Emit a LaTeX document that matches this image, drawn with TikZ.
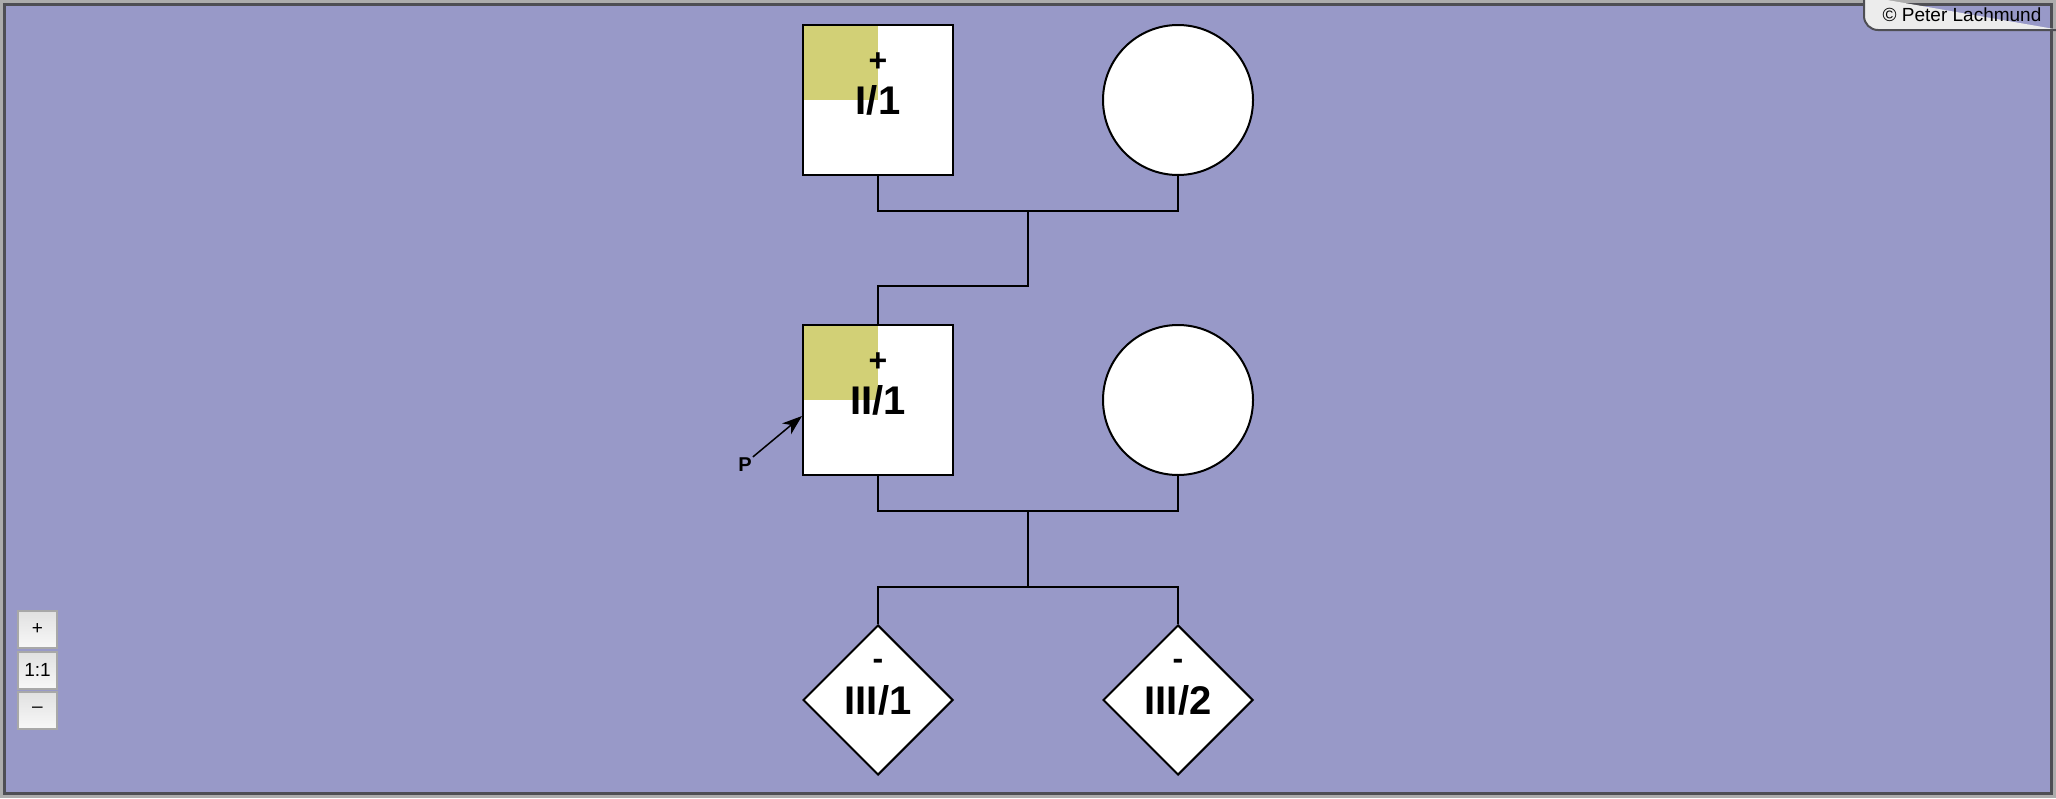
\documentclass[tikz,border=0pt]{standalone}
\usepackage{fontspec}
\setmainfont{Liberation Sans}
\usepackage{tikz}
\usetikzlibrary{shapes.geometric,arrows.meta}
\definecolor{bgblue}{RGB}{152,153,200}
\definecolor{khaki}{RGB}{210,208,118}
\definecolor{framelight}{RGB}{172,172,172}
\definecolor{framedark}{RGB}{78,78,84}
\definecolor{tabgray}{RGB}{236,236,236}
\definecolor{btnedge}{RGB}{168,168,168}
\tikzstyle{person} = [draw=black, fill=white, line width=2pt, inner sep=0pt]
\tikzstyle{male} = [person, rectangle, minimum size=150pt]
\tikzstyle{female} = [person, circle, minimum size=150pt]
\tikzstyle{unknown} = [person, diamond, minimum width=150pt, minimum height=150pt, aspect=1]
\tikzstyle{affected} = [path picture={\fill[khaki] (path picture bounding box.north west) rectangle (path picture bounding box.center);}]
\tikzstyle{idtext} = [font=\fontsize{40}{44}\selectfont\bfseries, inner sep=0pt]
\tikzstyle{signtext} = [font=\fontsize{32}{34}\selectfont\bfseries, inner sep=0pt]
\tikzstyle{line} = [draw=black, line width=2pt]
\tikzstyle{zoombtn} = [draw=btnedge, line width=2pt, top color=white!88!black, bottom color=white!97!black,
    minimum width=39pt, minimum height=37pt, inner sep=0pt, font=\fontsize{19}{21}\selectfont]

\begin{document}
\begin{tikzpicture}[x=1pt, y=-1pt]
    \useasboundingbox (0,0) rectangle (2056,798);
    % frame and background
    \fill[framelight] (0,0) rectangle (2056,798);
    \fill[framedark] (3,3) rectangle (2053,795);
    \fill[bgblue] (6,6) rectangle (2050,792);
    \filldraw[fill=tabgray, draw=framedark, line width=2pt, rounded corners=14pt]
        (1864,-4) -- (1864,30) -- (2060,30);
    \node[inner sep=0pt, font=\fontsize{19}{21}\selectfont] (copy) at (1962,15) {© Peter Lachmund};

    % generation I
    \node[male, affected] (i1) at (878,100) {};
    \node[idtext] (i1id) at (878,100) {I/1};
    \node[signtext] (i1sign) at (878,62) {+};
    \node[female] (i2) at (1178,100) {};

    % generation II
    \node[male, affected] (ii1) at (878,400) {};
    \node[idtext] (ii1id) at (878,400) {II/1};
    \node[signtext] (ii1sign) at (878,362) {+};
    \node[female] (ii2) at (1178,400) {};

    % generation III
    \node[unknown] (iii1) at (878,700) {};
    \node[idtext] (iii1id) at (878,700) {III/1};
    \node[signtext] (iii1sign) at (878,664) {-};
    \node[unknown] (iii2) at (1178,700) {};
    \node[idtext] (iii2id) at (1178,700) {III/2};
    \node[signtext] (iii2sign) at (1178,664) {-};

    % marriages and descent
    \coordinate (m1) at (1028,211);
    \coordinate (s1) at (1028,286);
    \draw[line] (i1.south) |- (m1) -| (i2.south);
    \draw[line] (m1) -- (s1) -| (ii1.north);
    \coordinate (m2) at (1028,511);
    \coordinate (s2) at (1028,587);
    \draw[line] (ii1.south) |- (m2) -| (ii2.south);
    \draw[line] (m2) -- (s2);
    \draw[line] (iii1.north) |- (s2) -| (iii2.north);

    % proband
    \node[inner sep=1pt, font=\fontsize{20}{22}\selectfont\bfseries] (p) at (745,465) {P};
    \coordinate (ptip) at (802,416);
    \draw[line width=1.5pt, -{Stealth[length=20pt, width=14pt, inset=6pt]}] (p.north east) -- (ptip);

    % zoom buttons
    \node[zoombtn] (zoomin) at (37.5,629) {+};
    \node[zoombtn] (zoomone) at (37.5,670) {1:1};
    \node[zoombtn] (zoomout) at (37.5,710) {–};
\end{tikzpicture}
\end{document}
